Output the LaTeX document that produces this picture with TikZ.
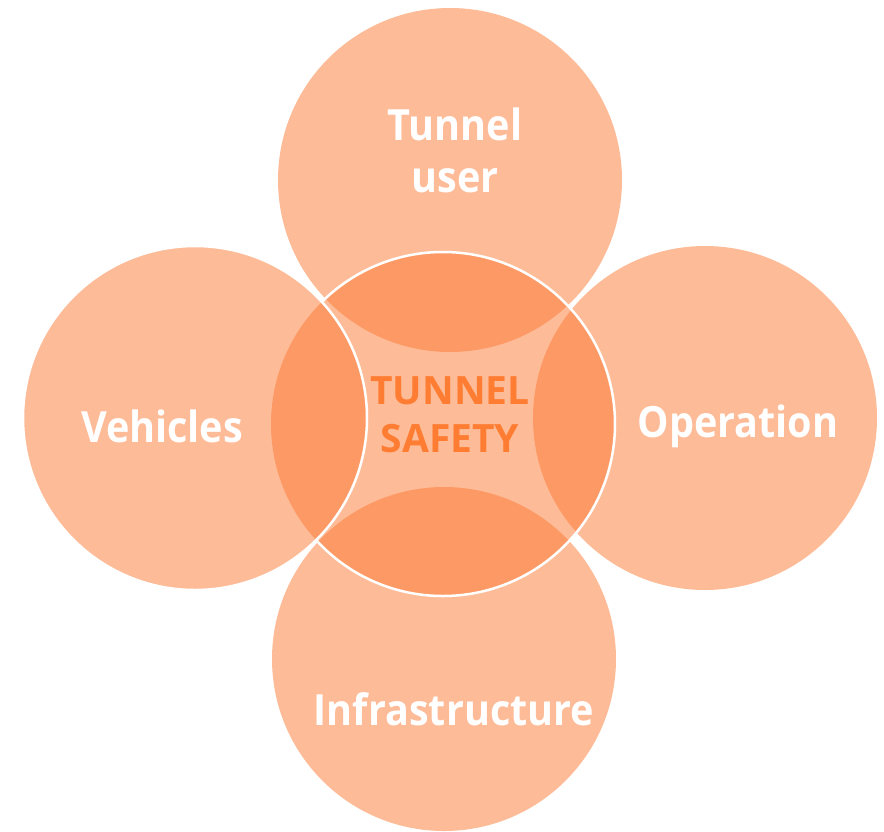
\documentclass[tikz,border=0pt]{standalone}
\usepackage{fontspec}
\setmainfont{Open Sans}
\newfontfamily\petalfont[FakeStretch=0.92]{Open Sans}
\usepackage{tikz}
\usetikzlibrary{positioning}

\definecolor{petalorange}{RGB}{252,120,50}
\definecolor{safetyorange}{RGB}{255,125,50}

\begin{document}
\begin{tikzpicture}[x=1pt,y=1pt,yscale=-1,xscale=1,
  petal/.style={circle,minimum size=344pt,inner sep=0pt,draw=none,fill=petalorange,fill opacity=0.5},
  rim/.style={draw=white,line width=2.5pt},
  petaltext/.style={text=white,font=\petalfont\bfseries\fontsize{43}{52}\selectfont,align=center,inner sep=0pt},
  safetytext/.style={text=safetyorange,font=\bfseries\fontsize{39}{48}\selectfont,align=center,inner sep=0pt}]
\useasboundingbox (0,0) rectangle (884,831);

%Circles
\node [petal] (user) at (450,180) {};
\node [petal] (operation) at (705,418) {};
\node [petal] (infrastructure) at (444,659) {};
\node [petal] (safety) at (443,424) {};
\node [petal] (vehicles) at (195,418) {};

%White rims (centre rim hidden under the left circle)
\begin{scope}[even odd rule]
\clip (0,0) rectangle (884,831) (vehicles.center) circle (172);
\draw [rim] (safety.center) circle (172);
\end{scope}
\draw [rim] (vehicles.center) circle (172);

% Text Nodes
\node [petaltext] (user text) at (455,150) {Tunnel\\user};
\node [petaltext,anchor=base] (vehicles text) at (162,442) {Vehicles};
\node [petaltext,anchor=base] (operation text) at (738,437) {Operation};
\node [petaltext,anchor=base] (infrastructure text) at (454,725) {Infrastructure};
\node [safetytext] (safety text) at (450,415) {TUNNEL\\SAFETY};
\end{tikzpicture}
\end{document}
